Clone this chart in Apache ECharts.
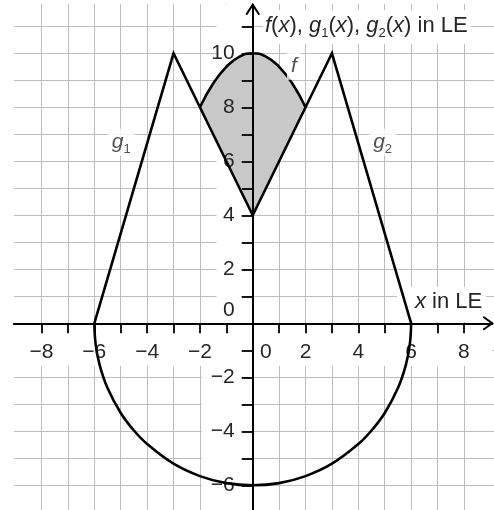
<!DOCTYPE html>
<html>
<head>
<meta charset="utf-8">
<script src="https://cdn.jsdelivr.net/npm/echarts@6/dist/echarts.min.js"></script>
<style>
  html, body { margin: 0; padding: 0; background: #fff; }
  #chart { width: 494px; height: 510px; }
</style>
</head>
<body>
<div id="chart"></div>
<script>
// Werte (LE)
const g1Points = [[-6, 0], [-3, 10], [0, 4]];
const g2Points = [[0, 4], [3, 10], [6, 0]];
const fPoints = [[-2, 8], [-1.5, 8.88], [-1, 9.5], [-0.5, 9.88], [0, 10], [0.5, 9.88], [1, 9.5], [1.5, 8.88], [2, 8]];
const bottomPoints = [
  [-6, 0], [-5.95, -0.77], [-5.8, -1.54], [-5.5, -2.4], [-5, -3.32], [-4.5, -3.97], [-4, -4.47],
  [-3, -5.2], [-2, -5.66], [-1, -5.92], [0, -6], [1, -5.92], [2, -5.66], [3, -5.2],
  [4, -4.47], [4.5, -3.97], [5, -3.32], [5.5, -2.4], [5.8, -1.54], [5.95, -0.77], [6, 0]
];
// untere Begrenzung der grauen Fläche (g1 bzw. g2)
const shadeLower = [[2, 8], [0, 4], [-2, 8]];

const xTicks = [-8, -7, -6, -5, -4, -3, -2, -1, 0, 1, 2, 3, 4, 5, 6, 7, 8];
const yTicks = [-6, -5, -4, -3, -2, -1, 0, 1, 2, 3, 4, 5, 6, 7, 8, 9, 10, 11];
const xLabels = [-8, -6, -4, -2, 0, 2, 4, 6, 8];
const yLabels = [-6, -4, -2, 0, 2, 4, 6, 8, 10];

const curveLabels = [
  { value: [-4.98, 6.7], text: '{i|g}{s|1}' },
  { value: [4.92, 6.7], text: '{i|g}{s|2}' },
  { value: [1.56, 9.52], text: '{i|f}' }
];

// weiße Streifen hinter den Achsenbeschriftungen
const bands = [
  [[-1.37, 11.8], [-0.42, 0]],
  [[-1.92, -1.58], [-0.42, -6.95]],
  [[-9.05, -0.06], [9.07, -1.58]]
];

const X_MIN = -9.05, X_MAX = 9.07, Y_MIN = -6.95, Y_MAX = 11.8;

const FONT = 'Liberation Sans, Arial, Helvetica, sans-serif';
const TEXT = '#262626';
const GRID = '#bdbdbd';

const txt = (extra) => Object.assign({ fontFamily: FONT, color: TEXT, fontSize: 21, fontWeight: 'normal' }, extra);
const richText = (size) => ({
  i: txt({ fontStyle: 'italic', fontSize: size }),
  s: txt({ fontSize: 13, verticalAlign: 'bottom', padding: [0, 0, -3, 0] })
});
const num = (v) => (v < 0 ? '\u2212' + Math.abs(v) : String(v));

const chart = echarts.init(document.getElementById('chart'));

const curveStyle = { color: '#000', width: 2.6, join: 'miter' };
const lineSeries = (data, smooth) => ({
  type: 'line',
  data: data,
  smooth: smooth,
  showSymbol: false,
  silent: true,
  z: 4,
  lineStyle: curveStyle,
  itemStyle: { color: '#000' }
});
const hidden = (gridIndex) => ({ type: 'value', gridIndex: gridIndex, show: false });
const gridDef = (left, width, top, height) => ({
  left: left, width: width, top: top, height: height, containLabel: false, outerBoundsMode: 'none'
});

chart.setOption({
  animation: false,
  grid: [
    gridDef(13.8, 478.4, 4.7, 506.25),   // Daten
    gridDef(15.1, 475.2, 4, 506),        // senkrechte Gitterlinien
    gridDef(14, 480, 26.3, 459),         // waagrechte Gitterlinien
    gridDef(13.8, 478.4, 0, 323.3),      // x-Achse
    gridDef(252.7, 241.3, 4.7, 506.25)   // y-Achse
  ],
  title: [
    {
      text: '{i|f}({i|x}), {i|g}{s|1}({i|x}), {i|g}{s|2}({i|x}) in LE',
      left: 263, top: 10, padding: [5, 3, 4, 2],
      backgroundColor: '#fff', z: 1,
      textStyle: txt({ fontSize: 22, rich: richText(22) })
    },
    {
      text: '{i|x} in LE',
      left: 397, top: 287, padding: [4, 4, 9, 18],
      backgroundColor: '#fff', z: 1,
      textStyle: txt({ fontSize: 22, rich: richText(22) })
    }
  ],
  xAxis: [
    { type: 'value', gridIndex: 0, min: X_MIN, max: X_MAX, show: false },
    {
      type: 'value', gridIndex: 1, min: -9, max: 9, interval: 1, z: 0,
      axisLine: { show: false }, axisTick: { show: false }, axisLabel: { show: false },
      splitLine: { show: true, showMinLine: false, showMaxLine: false, lineStyle: { color: GRID, width: 1 } }
    },
    hidden(2),
    {
      type: 'value', gridIndex: 3, min: X_MIN, max: X_MAX, position: 'bottom', z: 3,
      axisLine: { onZero: false, lineStyle: { color: '#000', width: 2 } },
      axisTick: { customValues: xTicks, length: 10, lineStyle: { color: '#000', width: 1.8 } },
      axisLabel: Object.assign(txt({}), {
        customValues: xLabels, margin: 18,
        formatter: (v) => (v === 0 ? '{z|0}' : num(v)),
        rich: { z: txt({ padding: [0, 0, 0, 26] }) }
      }),
      splitLine: { show: false }
    },
    hidden(4)
  ],
  yAxis: [
    { type: 'value', gridIndex: 0, min: Y_MIN, max: Y_MAX, show: false },
    hidden(1),
    {
      type: 'value', gridIndex: 2, min: -6, max: 11, interval: 1, z: 0,
      axisLine: { show: false }, axisTick: { show: false }, axisLabel: { show: false },
      splitLine: { show: true, lineStyle: { color: GRID, width: 1 } }
    },
    hidden(3),
    {
      type: 'value', gridIndex: 4, min: Y_MIN, max: Y_MAX, position: 'left', z: 3,
      axisLine: { onZero: false, lineStyle: { color: '#000', width: 2 } },
      axisTick: { customValues: yTicks, length: 11, lineStyle: { color: '#000', width: 1.8 } },
      axisLabel: Object.assign(txt({}), {
        customValues: yLabels, margin: 18,
        formatter: (v) => (v === 0 ? '{z|0}' : num(v)),
        rich: { z: txt({ padding: [0, 0, 26, 0] }) }
      }),
      splitLine: { show: false }
    }
  ],
  series: [
    {
      type: 'custom',
      silent: true,
      z: 2,
      data: [fPoints[0]],
      renderItem: (params, api) => ({
        type: 'polygon',
        shape: { points: fPoints.concat(shadeLower).map((p) => api.coord(p)) },
        style: { fill: '#c8c8c8' }
      })
    },
    lineSeries(g1Points, false),
    lineSeries(g2Points, false),
    lineSeries(fPoints, 0.5),
    lineSeries(bottomPoints, 0.4),
    {
      type: 'scatter',
      symbolSize: 0,
      silent: true,
      z: 5,
      data: curveLabels.map((d) => ({ value: d.value, text: d.text })),
      label: {
        show: true,
        position: 'inside',
        formatter: (p) => p.data.text,
        backgroundColor: '#fff',
        padding: [3, 4, 3, 4],
        rich: richText(21)
      }
    }
  ]
});

// weiße Streifen und Pfeilspitzen
const px = (p) => chart.convertToPixel({ gridIndex: 0 }, p);
const graphics = bands.map((b) => {
  const a = px(b[0]);
  const c = px(b[1]);
  return {
    type: 'rect', z: 1, silent: true,
    shape: { x: a[0], y: a[1], width: c[0] - a[0], height: c[1] - a[1] },
    style: { fill: '#fff' }
  };
});
const yTip = px([0, Y_MAX]);
const xTip = px([X_MAX, 0]);
graphics.push({
  type: 'polyline', z: 7, silent: true,
  shape: { points: [[yTip[0] - 6.5, yTip[1] + 10], yTip, [yTip[0] + 6.5, yTip[1] + 10]] },
  style: { stroke: '#000', lineWidth: 2, fill: null }
});
graphics.push({
  type: 'polyline', z: 7, silent: true,
  shape: { points: [[xTip[0] - 9, xTip[1] - 6.5], xTip, [xTip[0] - 9, xTip[1] + 6.5]] },
  style: { stroke: '#000', lineWidth: 2, fill: null }
});
chart.setOption({ graphic: graphics });
</script>
</body>
</html>
